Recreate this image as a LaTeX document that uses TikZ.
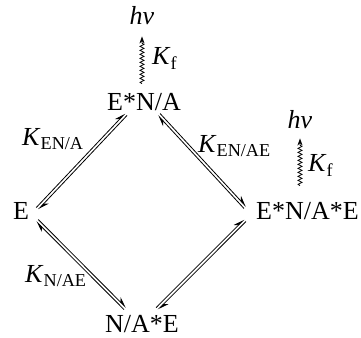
\documentclass[tikz,border=0pt]{standalone}
\usepackage{fontspec}
\setmainfont{Liberation Serif}
\usetikzlibrary{positioning}
\usetikzlibrary{calc,arrows.meta,decorations.pathmorphing}

% pair of harpoons between two points
\newcommand{\eqpair}[2]{%
  \draw[harp] ($(#1)!1.4pt!90:(#2)$) -- ($(#2)!1.4pt!-90:(#1)$);
  \draw[harp] ($(#2)!1.4pt!90:(#1)$) -- ($(#1)!1.4pt!-90:(#2)$);}

\begin{document}
\begin{tikzpicture}[x=1pt, y=1pt,
      every node/.style={font=\fontsize{26}{30}\selectfont, inner sep=3pt},
      state/.style={anchor=base west},
      rate/.style={anchor=base west},
      harp/.style={-{Stealth[left, length=10pt, width=7pt]}, line width=0.8pt},
      wavy/.style={-{Stealth[length=7pt, width=5pt]}, line width=0.8pt,
                   decorate, decoration={snake, amplitude=1.9pt,
                   segment length=4pt, post length=6pt}},
  ]
    \useasboundingbox (0,0) rectangle (361,337);

    % species
    \node[state] (ena)  at (104,226) {E*N/A};
    \node[state] (e)    at (10,117)  {E};
    \node[state] (enae) at (253,117) {E*N/A*E};
    \node[state] (nae)  at (102,5)   {N/A*E};

    % emission
    \node[anchor=base] (hv1) at (142,312) {\itshape hν};
    \node[anchor=base] (hv2) at (300,208) {\itshape hν};
    \draw[wavy] ($(ena.north -| hv1)+(0,7)$) -- ($(hv1.south)+(0,-8)$);
    \draw[wavy] ($(enae.north -| hv2)+(0,14)$) -- ($(hv2.south)+(0,-6)$);

    % rate constants
    \node[rate] (kf1)  at (149,272) {\textit{K}\textsubscript{f}};
    \node[rate] (kf2)  at (305,165) {\textit{K}\textsubscript{f}};
    \node[rate] (kena) at (19,191)  {\textit{K}\textsubscript{EN/A}};
    \node[rate] (kenae) at (195,184) {\textit{K}\textsubscript{EN/AE}};
    \node[rate] (knae) at (22,54)   {\textit{K}\textsubscript{N/AE}};

    % equilibria
    \eqpair{[xshift=-18pt]ena.south}{[shift={(5pt,3pt)}]e.east}
    \eqpair{[shift={(5pt,-9pt)}]e.east}{[shift={(-17pt,3pt)}]nae.north}
    \eqpair{[xshift=15pt]ena.south}{[shift={(-8pt,4pt)}]enae.west}
    \eqpair{[shift={(-8pt,-9pt)}]enae.west}{[shift={(15pt,3pt)}]nae.north}
  \end{tikzpicture}
\end{document}
